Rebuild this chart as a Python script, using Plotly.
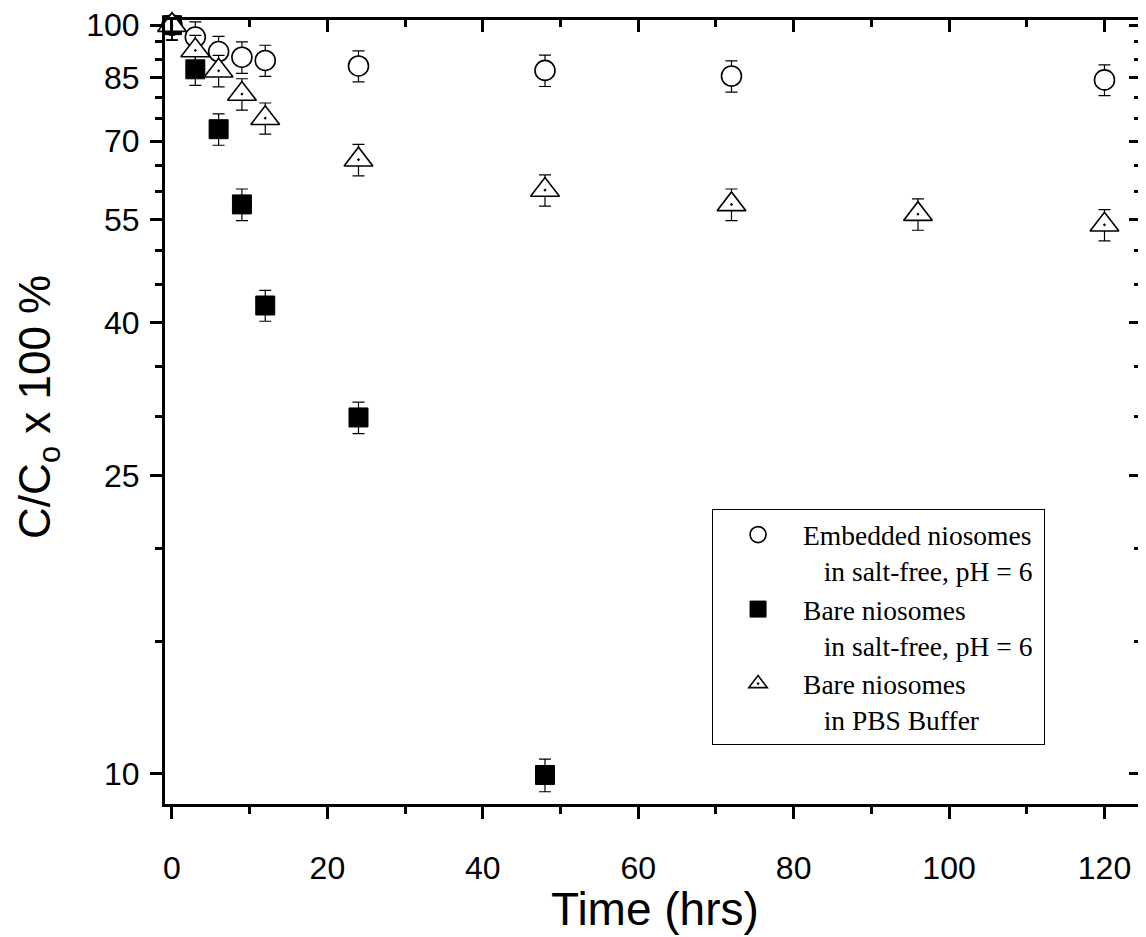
import math
import plotly.graph_objects as go

# ---- data ----
time_embedded = [0, 3, 6, 9, 12, 24, 48, 72, 120]
embedded_saltfree = [100, 96.4, 92.2, 90.6, 89.7, 88.2, 87.0, 85.5, 84.5]
embedded_err = [4.5, 4.6, 4.4, 4.4, 4.3, 4.2, 4.2, 4.1, 4.0]

time_bare = [0, 3, 6, 9, 12, 24, 48]
bare_saltfree = [100, 87.3, 72.6, 57.6, 42.2, 29.9, 9.95]
bare_err = [4.5, 4.2, 3.5, 2.8, 2.0, 1.45, 0.5]

time_pbs = [0, 3, 6, 9, 12, 24, 48, 72, 96, 120]
bare_pbs = [100, 92.5, 86.9, 80.9, 75.1, 66.1, 60.2, 57.6, 55.9, 54.1]
pbs_err = [4.5, 4.4, 4.2, 3.9, 3.6, 3.2, 2.9, 2.8, 2.7, 2.6]

y_tickvals = [10, 25, 40, 55, 70, 85, 100]
y_ticktext = ["10", "25", "40", "55", "70", "85", "100"]
y_minorvals = [15, 20, 30, 35, 45, 50, 60, 65, 75, 80, 90, 95]
x_tickvals = [0, 20, 40, 60, 80, 100, 120]
x_minorvals = [10, 30, 50, 70, 90, 110]

legend_names = [
    "Embedded niosomes&nbsp;<br>&nbsp;&nbsp;&nbsp;in salt-free, pH = 6",
    "Bare niosomes<br>&nbsp;&nbsp;&nbsp;in salt-free, pH = 6",
    "Bare niosomes<br>&nbsp;&nbsp;&nbsp;in PBS Buffer",
]
x_title = "Time (hrs)"
y_title = "C/C<sub>o</sub> x 100 %"

x_range = [-0.9, 124.7]
y_range_vals = [9.1, 101.6]
y_range = [math.log10(y_range_vals[0]), math.log10(y_range_vals[1])]

fig = go.Figure()

err_style = dict(type="data", visible=True, color="black", thickness=1.2, width=6)

fig.add_trace(go.Scatter(
    x=time_embedded, y=embedded_saltfree, mode="markers", name=legend_names[0],
    error_y=dict(array=embedded_err, **err_style), cliponaxis=False,
    marker=dict(symbol="circle", size=20, color="white", line=dict(color="black", width=1.6)),
))
fig.add_trace(go.Scatter(
    x=time_bare, y=bare_saltfree, mode="markers", name=legend_names[1],
    error_y=dict(array=bare_err, **err_style), cliponaxis=False,
    marker=dict(symbol="square", size=19, color="black", line=dict(color="black", width=1)),
))
fig.add_trace(go.Scatter(
    x=time_pbs, y=bare_pbs, mode="markers", name=legend_names[2],
    error_y=dict(array=pbs_err, **err_style), cliponaxis=False,
    marker=dict(symbol="triangle-up-dot", size=25, color="white", line=dict(color="black", width=1.6)),
))
# invisible trace carrying the mirrored (inside-tick) axes
fig.add_trace(go.Scatter(
    x=time_pbs, y=bare_pbs, mode="markers", xaxis="x2", yaxis="y2",
    marker=dict(opacity=0), showlegend=False, hoverinfo="skip",
))

tick_font = dict(family="Liberation Sans, Arial, sans-serif", size=32, color="black")

fig.update_layout(
    width=1138, height=929,
    margin=dict(l=157, r=5, t=12, b=133),
    paper_bgcolor="white", plot_bgcolor="white",
    showlegend=True,
    legend=dict(
        x=0.5605, y=0.376, xanchor="left", yanchor="top",
        bgcolor="white", bordercolor="black", borderwidth=1,
        font=dict(family="Liberation Serif, Times New Roman, serif", size=27.5, color="black"),
        valign="top", itemwidth=80, tracegroupgap=0,
    ),
    xaxis=dict(
        range=x_range, showgrid=False, zeroline=False, automargin=False,
        showline=True, linecolor="black", linewidth=3, mirror=True,
        tickmode="array", tickvals=x_tickvals, ticktext=[str(v) for v in x_tickvals],
        ticks="outside", ticklen=12, tickwidth=2.5, tickcolor="black",
        ticklabelstandoff=22, ticklabeloverflow="allow",
        minor=dict(tickvals=x_minorvals, ticks="outside", ticklen=7, tickwidth=2.5, tickcolor="black", showgrid=False),
        tickfont=tick_font,
    ),
    yaxis=dict(
        type="log", range=y_range, showgrid=False, zeroline=False, automargin=False,
        showline=True, linecolor="black", linewidth=3, mirror=True,
        tickmode="array", tickvals=y_tickvals, ticktext=y_ticktext,
        ticks="outside", ticklen=12, tickwidth=2.5, tickcolor="black",
        ticklabelstandoff=4, ticklabeloverflow="allow",
        minor=dict(tickvals=y_minorvals, ticks="outside", ticklen=7, tickwidth=2.5, tickcolor="black", showgrid=False),
        tickfont=tick_font,
    ),
    xaxis2=dict(
        overlaying="x", side="top", range=x_range, showgrid=False, zeroline=False,
        showline=False, showticklabels=False, automargin=False,
        tickmode="array", tickvals=x_tickvals,
        ticks="inside", ticklen=12, tickwidth=2.5, tickcolor="black",
        minor=dict(tickvals=x_minorvals, ticks="inside", ticklen=7, tickwidth=2.5, tickcolor="black", showgrid=False),
    ),
    yaxis2=dict(
        overlaying="y", side="right", type="log", range=y_range, showgrid=False, zeroline=False,
        showline=False, showticklabels=False, automargin=False,
        tickmode="array", tickvals=y_tickvals,
        ticks="inside", ticklen=12, tickwidth=2.5, tickcolor="black",
        minor=dict(tickvals=y_minorvals, ticks="inside", ticklen=7, tickwidth=2.5, tickcolor="black", showgrid=False),
    ),
)

fig.add_annotation(
    text=y_title, textangle=-90, showarrow=False,
    xref="paper", yref="paper", x=-0.1295, y=0.506, xanchor="center", yanchor="middle",
    font=dict(family="Liberation Sans, Arial, sans-serif", size=44, color="black"),
)
fig.add_annotation(
    text=x_title, showarrow=False,
    xref="paper", yref="paper", x=0.502, y=-0.1345, xanchor="center", yanchor="middle",
    font=dict(family="Liberation Sans, Arial, sans-serif", size=46, color="black"),
)

fig.write_html("out.html")
